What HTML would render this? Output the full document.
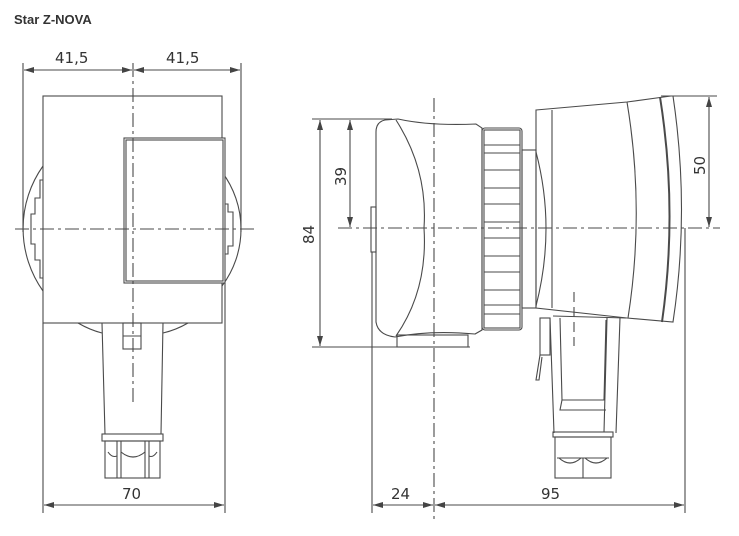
<!DOCTYPE html>
<html><head><meta charset="utf-8"><style>
html,body{margin:0;padding:0;background:#fff;}
svg{display:block;}
text{font-family:"DejaVu Sans","Liberation Sans",sans-serif;fill:#333;}
</style></head><body>
<svg width="739" height="536" viewBox="0 0 739 536" xmlns="http://www.w3.org/2000/svg">
<defs>
<marker id="a" viewBox="0 0 10 6" refX="10" refY="3" markerWidth="10" markerHeight="6" markerUnits="userSpaceOnUse" orient="auto-start-reverse"><path d="M0,0 L10,3 L0,6 z" fill="#444"/></marker>
</defs>
<text x="14" y="24" font-size="13" font-weight="bold" style="font-family:'Liberation Sans',sans-serif">Star Z-NOVA</text>
<g stroke="#4a4a4a" stroke-width="1.1" fill="none">
<!-- LEFT VIEW -->
<line x1="23" y1="63" x2="23" y2="232"/>
<line x1="241" y1="63" x2="241" y2="232"/>
<line x1="24" y1="70" x2="132" y2="70" marker-start="url(#a)" marker-end="url(#a)"/>
<line x1="134" y1="70" x2="240" y2="70" marker-start="url(#a)" marker-end="url(#a)"/>
<path d="M43,166 A108,108 0 0 0 43,291"/>
<path d="M222,172 A95,95 0 0 1 222,286"/>
<path d="M43,180 L40,180 L40,198 L35,198 L35,214 L31,214 L31,244 L35,244 L35,260 L40,260 L40,278 L43,278"/>
<path d="M222,204 L228,204 L228,212 L233,212 L233,246 L228,246 L228,254 L222,254"/>
<rect x="43" y="96" width="179" height="227" fill="#fff"/>
<rect x="124" y="138" width="101" height="145" fill="#fff"/>
<rect x="126" y="140" width="97" height="141"/>
<path d="M78,323 Q90,330 102,333"/>
<path d="M163,333 Q176,330 188,323"/>
<path d="M102,323 L105,434 M163,323 L161,434"/>
<rect x="123" y="323" width="18" height="26"/>
<line x1="123" y1="336" x2="141" y2="336"/>
<rect x="102" y="434" width="61" height="7"/>
<rect x="105" y="441" width="55" height="37"/>
<line x1="117" y1="441" x2="117" y2="478"/><line x1="121" y1="441" x2="121" y2="478"/>
<line x1="145" y1="441" x2="145" y2="478"/><line x1="149" y1="441" x2="149" y2="478"/>
<path d="M108,452 Q112,458 117,456 M121,452 Q133,462 145,452 M149,456 Q153,458 157,452"/>
<line x1="43" y1="323" x2="43" y2="513"/>
<line x1="225" y1="283" x2="225" y2="513"/>
<line x1="44" y1="505" x2="224" y2="505" marker-start="url(#a)" marker-end="url(#a)"/>
<line x1="15" y1="229" x2="255" y2="229" stroke-dasharray="14,4,3,4"/>
<line x1="133" y1="63" x2="133" y2="405" stroke-dasharray="14,4,3,4"/>

<!-- RIGHT VIEW -->
<line x1="312" y1="119" x2="392" y2="119"/>
<line x1="312" y1="347" x2="470" y2="347"/>
<line x1="320" y1="120" x2="320" y2="346" marker-start="url(#a)" marker-end="url(#a)"/>
<line x1="350" y1="120" x2="350" y2="227" marker-start="url(#a)" marker-end="url(#a)"/>
<path d="M385,120 Q376,122 376,132 L376,322 Q378,335 395,337 Q430,330 475,334 L482,330 L482,128 L476,124 Q430,126 398,119 Z"/>
<path d="M396,120 Q428,170 424,228 Q428,290 396,336"/>
<rect x="371" y="207" width="5" height="45"/>
<rect x="397" y="335" width="71" height="12"/>
<rect x="482" y="128" width="40" height="202" rx="3"/>
<rect x="484" y="130" width="36" height="198"/>
<g>
<line x1="484" y1="145" x2="520" y2="145"/><line x1="484" y1="153" x2="520" y2="153"/>
<line x1="484" y1="170" x2="520" y2="170"/><line x1="484" y1="188" x2="520" y2="188"/>
<line x1="484" y1="204" x2="520" y2="204"/><line x1="484" y1="222" x2="520" y2="222"/>
<line x1="484" y1="238" x2="520" y2="238"/><line x1="484" y1="256" x2="520" y2="256"/>
<line x1="484" y1="272" x2="520" y2="272"/><line x1="484" y1="290" x2="520" y2="290"/>
<line x1="484" y1="305" x2="520" y2="305"/><line x1="484" y1="314" x2="520" y2="314"/>
</g>
<rect x="522" y="150" width="14" height="158"/>
<path d="M536,152 Q556,228 536,306"/>
<path d="M536,110 L627,102 L671,96 L673,96 Q690,210 673,322 L627,318 L536,308 Z"/>
<line x1="552" y1="110" x2="552" y2="308"/>
<path d="M627,102 Q645,210 628,318"/>
<path d="M660,97 Q678,210 662,322" stroke-width="2"/>
<line x1="661" y1="96" x2="717" y2="96"/>
<line x1="709" y1="97" x2="709" y2="227" marker-start="url(#a)" marker-end="url(#a)"/>
<!-- terminal box -->
<path d="M553,316 L626,318"/>
<rect x="540" y="318" width="10" height="37"/>
<path d="M540,355 L536,380 L539,380 L542,357"/>
<path d="M550,318 L554,433 M620,318 L616,433 M607,318 L604,432 M560,318 L562,400 L604,400 L606,320"/>
<path d="M562,400 L560,410 L606,410"/>
<rect x="553" y="432" width="60" height="5"/>
<rect x="555" y="437" width="56" height="41"/>
<line x1="583" y1="458" x2="583" y2="478"/>
<path d="M557,458 L609,458 M559,458 Q570,468 581,458 M585,458 Q596,468 607,458"/>
<line x1="372" y1="252" x2="372" y2="513"/>
<line x1="685" y1="228" x2="685" y2="513"/>
<line x1="373" y1="505" x2="433" y2="505" marker-start="url(#a)" marker-end="url(#a)"/>
<line x1="435" y1="505" x2="684" y2="505" marker-start="url(#a)" marker-end="url(#a)"/>
<line x1="338" y1="228" x2="720" y2="228" stroke-dasharray="14,4,3,4"/>
<line x1="434" y1="98" x2="434" y2="520" stroke-dasharray="14,4,3,4"/>
<line x1="574" y1="292" x2="574" y2="346" stroke-dasharray="10,5"/>
</g>
<g font-size="15">
<text x="55" y="63">41,5</text>
<text x="166" y="63">41,5</text>
<text x="122" y="499">70</text>
<text x="391" y="499">24</text>
<text x="541" y="499">95</text>
<text transform="translate(346,186) rotate(-90)">39</text>
<text transform="translate(314,244) rotate(-90)">84</text>
<text transform="translate(705,175) rotate(-90)">50</text>
</g>
</svg>
</body></html>
